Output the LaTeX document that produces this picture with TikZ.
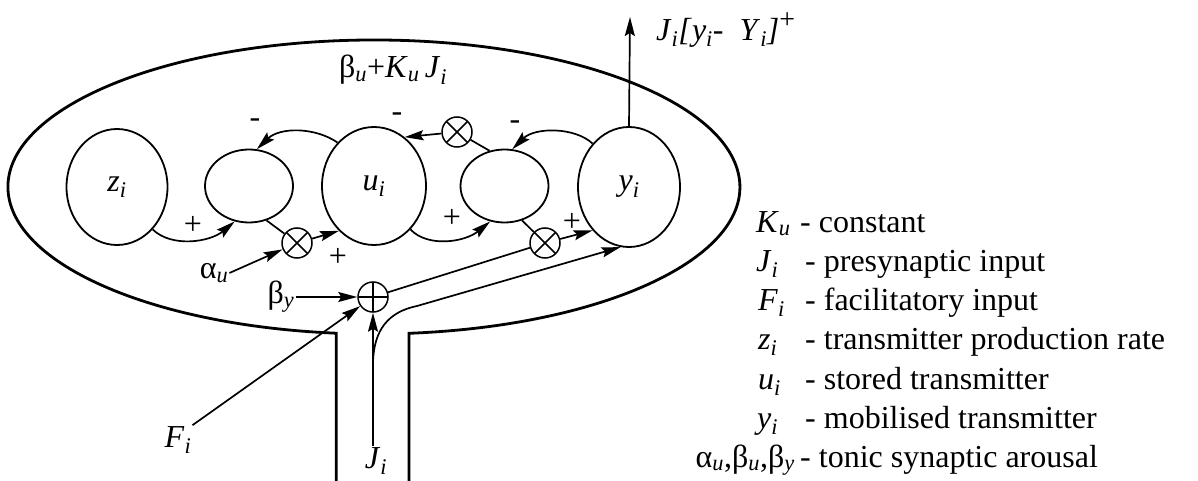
\documentclass[tikz,border=0pt]{standalone}
\usepackage{fontspec}
\setmainfont{Liberation Serif}
\usetikzlibrary{shapes.geometric,arrows.meta}
\newcommand{\vs}[2]{\textit{#1}\textsubscript{\textit{#2}}}
\tikzset{
  pool/.style = {ellipse, draw, line width=1.8pt, inner sep=0pt},
  gate/.style = {ellipse, draw, line width=1.8pt, minimum width=88pt, minimum height=73pt},
  mul/.style  = {circle, draw, line width=1.5pt, minimum size=30pt, inner sep=0pt,
                 path picture={\draw[line width=1.5pt]
                   (path picture bounding box.north west) -- (path picture bounding box.south east)
                   (path picture bounding box.north east) -- (path picture bounding box.south west);}},
  add/.style  = {circle, draw, line width=1.5pt, minimum size=30pt, inner sep=0pt,
                 path picture={\draw[line width=1.5pt]
                   (path picture bounding box.north) -- (path picture bounding box.south)
                   (path picture bounding box.west) -- (path picture bounding box.east);}},
  fl/.style   = {line width=1.7pt},
  fla/.style  = {fl, -{Stealth[length=19pt,width=10pt,inset=3pt]}},
  sgn/.style  = {inner sep=0pt},
  lab/.style  = {inner sep=1pt},
  leg/.style  = {inner sep=0pt, anchor=base west},
}
\begin{document}
\begin{tikzpicture}[x=1pt, y=-1pt, font=\fontsize{32}{38}\selectfont]
  \useasboundingbox (0,0) rectangle (1198,481);
  % synapse outline
  \draw[line width=2.8pt] (409,481) -- (409,333.3)
    arc[start angle=-84.5, end angle=264.1, x radius=366pt, y radius=147pt] -- ++(0,148);

  \node[pool, minimum width=101pt, minimum height=116pt] (zi) at (117,187) {\vs{z}{i}};
  \node[gate] (gu) at (249,186) {};
  \node[pool, minimum width=104pt, minimum height=118pt] (ui) at (374,186) {\vs{u}{i}};
  \node[gate] (gy) at (504.5,186) {};
  \node[pool, minimum width=102pt, minimum height=120pt] (yi) at (629,187) {\vs{y}{i}};

  \node[mul] (mulu) at (297,243) {};
  \node[mul] (mulk) at (457,132) {};
  \node[mul] (muly) at (545,243) {};
  \node[add] (sumy) at (373,297) {};

  \node[lab] (kterm) at (393,70) {β\textsubscript{\textit{u}}+\vs{K}{u}\,\vs{J}{i}};
  \node[lab, anchor=west] (out) at (655,30) {\vs{J}{i}\textit{[}\vs{y}{i}- \ \vs{Y}{i}\textit{]}\raisebox{.38em}{\fontsize{28}{28}\selectfont +}};
  \coordinate (ytop) at (630,17);
  \node[lab] (alphau) at (214,273) {α\textsubscript{\textit{u}}};
  \node[lab] (betay) at (281,297) {β\textsubscript{\textit{y}}};
  \node[lab] (Fi) at (178,440) {\vs{F}{i}};
  \node[lab] (Ji) at (376,461) {\vs{J}{i}};
  \coordinate (jsplit) at (373,362);

  % signs
  \node[sgn] (s1) at (193,225) {+};
  \node[sgn] (s2) at (255,123) {-};
  \node[sgn] (s3) at (338,257) {+};
  \node[sgn] (s4) at (452,218) {+};
  \node[sgn] (s5) at (397,117) {-};
  \node[sgn] (s6) at (515,125) {-};
  \node[sgn] (s7) at (572,222) {+};

  % flows
  \draw[fla] (zi.-50) .. controls (172,248) and (210,242) .. (gu.-112);
  \draw[fla] (ui.130) .. controls (315,127) and (280,127) .. (gu.78);
  \draw[fl] (gu.-63) -- (mulu);
  \draw[fla] (mulu) -- (ui.-128);
  \draw[fla] (alphau.east) -- (mulu);
  \draw[fla] (ui.-50) .. controls (428,248) and (465,242) .. (gy.-112);
  \draw[fl] (gy.113) -- (mulk);
  \draw[fla] (mulk) -- (ui.58);
  \draw[fla] (yi.130) .. controls (575,127) and (535,127) .. (gy.78);
  \draw[fl] (gy.-63) -- (muly);
  \draw[fla] (muly) -- (yi.-130);
  \draw[fla] (yi.north) -- (ytop);
  \draw[fla] (betay.east) -- (sumy);
  \draw[fl] (sumy) -- (muly);
  \draw[fla] (Fi.north east) -- (sumy);
  \draw[fla] (Ji.north -| sumy) -- (sumy);
  \draw[fla] (jsplit) .. controls (374,330) and (388,312) .. (417,306) -- (yi.-98);

  % legend
  \node[leg] (lk) at (756,232) {\vs{K}{u}};
  \node[leg] (dk) at (800,232) {- constant};
  \node[leg] (lj) at (756,271) {\vs{J}{i}};
  \node[leg] (dj) at (805,271) {- presynaptic input};
  \node[leg] (lf) at (758,310) {\vs{F}{i}};
  \node[leg] (df) at (805,310) {- facilitatory input};
  \node[leg] (lz) at (758,349) {\vs{z}{i}};
  \node[leg] (dz) at (805,349) {- transmitter production rate};
  \node[leg] (lu) at (758,389) {\vs{u}{i}};
  \node[leg] (du) at (805,389) {- stored transmitter};
  \node[leg] (ly) at (757,428) {\vs{y}{i}};
  \node[leg] (dy) at (805,428) {- mobilised transmitter};
  \node[leg, anchor=base east] (la) at (795,467) {α\textsubscript{\textit{u}},β\textsubscript{\textit{u}},β\textsubscript{\textit{y}}};
  \node[leg] (da) at (800,467) {- tonic synaptic arousal};
\end{tikzpicture}
\end{document}
